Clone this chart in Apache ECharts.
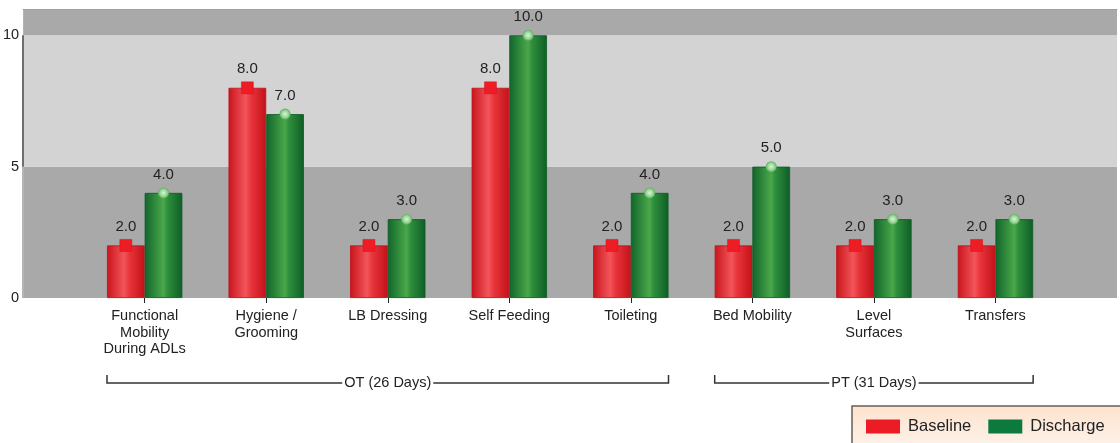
<!DOCTYPE html>
<html>
<head>
<meta charset="utf-8">
<script src="https://cdn.jsdelivr.net/npm/echarts@6/dist/echarts.min.js"></script>
<style>
  html, body { margin: 0; padding: 0; background: #fff; }
  #chart { width: 1120px; height: 443px; }
</style>
</head>
<body>
<div id="chart"></div>
<script>
// ---- data ----
const categories = [
  'Functional\nMobility\nDuring ADLs',
  'Hygiene /\nGrooming',
  'LB Dressing',
  'Self Feeding',
  'Toileting',
  'Bed Mobility',
  'Level\nSurfaces',
  'Transfers'
];
const baseline  = [2, 8, 2, 8, 2, 2, 2, 2];
const discharge = [4, 7, 3, 10, 4, 5, 3, 3];
const seriesNames = ['Baseline', 'Discharge'];
const groups = [
  { name: 'OT (26 Days)', from: 0, to: 4 },
  { name: 'PT (31 Days)', from: 5, to: 7 }
];
const yTicks = [0, 5, 10];
const yMax = 11;

// ---- build ----
const FONT = '"Liberation Sans", Arial, sans-serif';
const axisCats = [''].concat(categories, ['']);
const pad = arr => [null].concat(arr, [null]);

const redGrad = new echarts.graphic.LinearGradient(0, 0, 1, 0, [
  { offset: 0, color: '#c9141c' },
  { offset: 0.45, color: '#f2555b' },
  { offset: 0.6, color: '#e8333a' },
  { offset: 1, color: '#c3121a' }
]);
const greenGrad = new echarts.graphic.LinearGradient(0, 0, 1, 0, [
  { offset: 0, color: '#11652b' },
  { offset: 0.5, color: '#4aa84a' },
  { offset: 0.6, color: '#2f8f3c' },
  { offset: 1, color: '#0e5e27' }
]);
const greenDot = new echarts.graphic.RadialGradient(0.5, 0.5, 0.5, [
  { offset: 0, color: '#d6f5d6' },
  { offset: 0.6, color: '#9bd79b' },
  { offset: 1, color: '#5cae5c' }
]);

const barLabel = {
  show: true, position: 'top', distance: 11,
  fontFamily: FONT, fontSize: 15, color: '#222',
  formatter: p => (p.value == null ? '' : Number(p.value).toFixed(1))
};

const chart = echarts.init(document.getElementById('chart'), null, { renderer: 'canvas' });

const option = {
  animation: false,
  grid: { left: 21, right: -3, top: 9, bottom: 145, containLabel: false },
  legend: {
    left: 852, top: 406, width: 320,
    orient: 'horizontal',
    icon: 'rect',
    itemWidth: 34, itemHeight: 14, itemGap: 17,
    padding: [12, 20, 14, 14],
    backgroundColor: new echarts.graphic.LinearGradient(0, 0, 0, 1, [
      { offset: 0, color: '#fde3cd' },
      { offset: 1, color: '#fdf3ec' }
    ]),
    borderColor: '#6b5e55', borderWidth: 1.5,
    textStyle: { fontFamily: FONT, fontSize: 16.5, color: '#222', padding: [0, 0, 0, 3] },
    data: [
      { name: seriesNames[0], itemStyle: { color: '#ed1c24', borderWidth: 0 } },
      { name: seriesNames[1], itemStyle: { color: '#0b7a3c', borderWidth: 0 } }
    ]
  },
  xAxis: [{
    type: 'category',
    data: axisCats,
    boundaryGap: false,
    axisLine: { show: false },
    axisTick: {
      show: true, length: 5, lineStyle: { color: '#222' },
      interval: (i) => i > 0 && i <= categories.length
    },
    axisLabel: {
      interval: 0, margin: 10,
      fontFamily: FONT, fontSize: 14.5, color: '#222', lineHeight: 16.5, align: 'center'
    },
    splitLine: { show: false }
  }, {
    type: 'category',
    position: 'top',
    data: axisCats,
    boundaryGap: false,
    axisLine: { show: true, lineStyle: { color: '#a0a0a0', width: 1 } },
    axisTick: { show: false },
    axisLabel: { show: false }
  }],
  yAxis: {
    type: 'value',
    min: 0, max: yMax, interval: 5,
    axisLine: { show: false },
    axisTick: { show: false },
    axisLabel: {
      margin: 4, fontFamily: FONT, fontSize: 14.5, color: '#222',
      formatter: v => (yTicks.indexOf(v) >= 0 ? String(v) : '')
    },
    splitLine: { show: false },
    splitArea: { show: true, areaStyle: { color: ['#a9a9a9', '#d3d3d3'] } }
  },
  series: [
    {
      name: seriesNames[0], type: 'bar',
      data: pad(baseline),
      barWidth: '31%', barGap: '0%',
      itemStyle: { color: redGrad, borderColor: '#c0121a', borderWidth: 0.8 },
      label: barLabel,
      markPoint: {
        symbol: 'rect', symbolSize: 12,
        itemStyle: { color: '#ee1c25', borderColor: '#d0151d', borderWidth: 0.5 },
        label: { show: false },
        data: baseline.map((v, i) => ({ coord: [i + 1, v] }))
      }
    },
    {
      name: seriesNames[1], type: 'bar',
      data: pad(discharge),
      barWidth: '31%', barGap: '0%',
      itemStyle: { color: greenGrad, borderColor: '#0e5a26', borderWidth: 0.8 },
      label: barLabel,
      markPoint: {
        symbol: 'circle', symbolSize: 11,
        itemStyle: { color: greenDot },
        label: { show: false },
        data: discharge.map((v, i) => ({ coord: [i + 1, v] }))
      }
    },
    {
      name: 'axis', type: 'line', data: [], silent: true,
      markLine: {
        silent: true, symbol: 'none', label: { show: false },
        data: [
          [{ coord: [0, 0], lineStyle: { color: '#b4b4b4', width: 2, type: 'solid' } }, { coord: [0, 5] }],
          [{ coord: [0, 5], lineStyle: { color: '#6e6e6e', width: 2, type: 'solid' } }, { coord: [0, 10] }]
        ]
      }
    }
  ]
};
chart.setOption(option);

// ---- group brackets (positions from the axis scales) ----
function drawBrackets() {
  const x0 = chart.convertToPixel({ xAxisIndex: 0 }, 0);
  const x1 = chart.convertToPixel({ xAxisIndex: 0 }, 1);
  const band = x1 - x0;
  const half = band * 0.31;
  const yBase = chart.convertToPixel({ yAxisIndex: 0 }, 0);
  const yLine = yBase + 85;
  const elements = [];
  groups.forEach(g => {
    const xa = chart.convertToPixel({ xAxisIndex: 0 }, g.from + 1) - half;
    const xb = chart.convertToPixel({ xAxisIndex: 0 }, g.to + 1) + half;
    elements.push({
      type: 'polyline', silent: true,
      shape: { points: [[xa, yLine - 8], [xa, yLine], [xb, yLine], [xb, yLine - 8]] },
      style: { stroke: '#333', lineWidth: 1.5, fill: null }
    });
    elements.push({
      type: 'text', silent: true, z: 10,
      x: (xa + xb) / 2, y: yLine,
      style: {
        text: g.name, fontFamily: FONT, fontSize: 14.5, fill: '#222',
        align: 'center', verticalAlign: 'middle',
        backgroundColor: '#fff', padding: [2, 2]
      }
    });
  });
  chart.setOption({ graphic: { elements } });
}
drawBrackets();
</script>
</body>
</html>
